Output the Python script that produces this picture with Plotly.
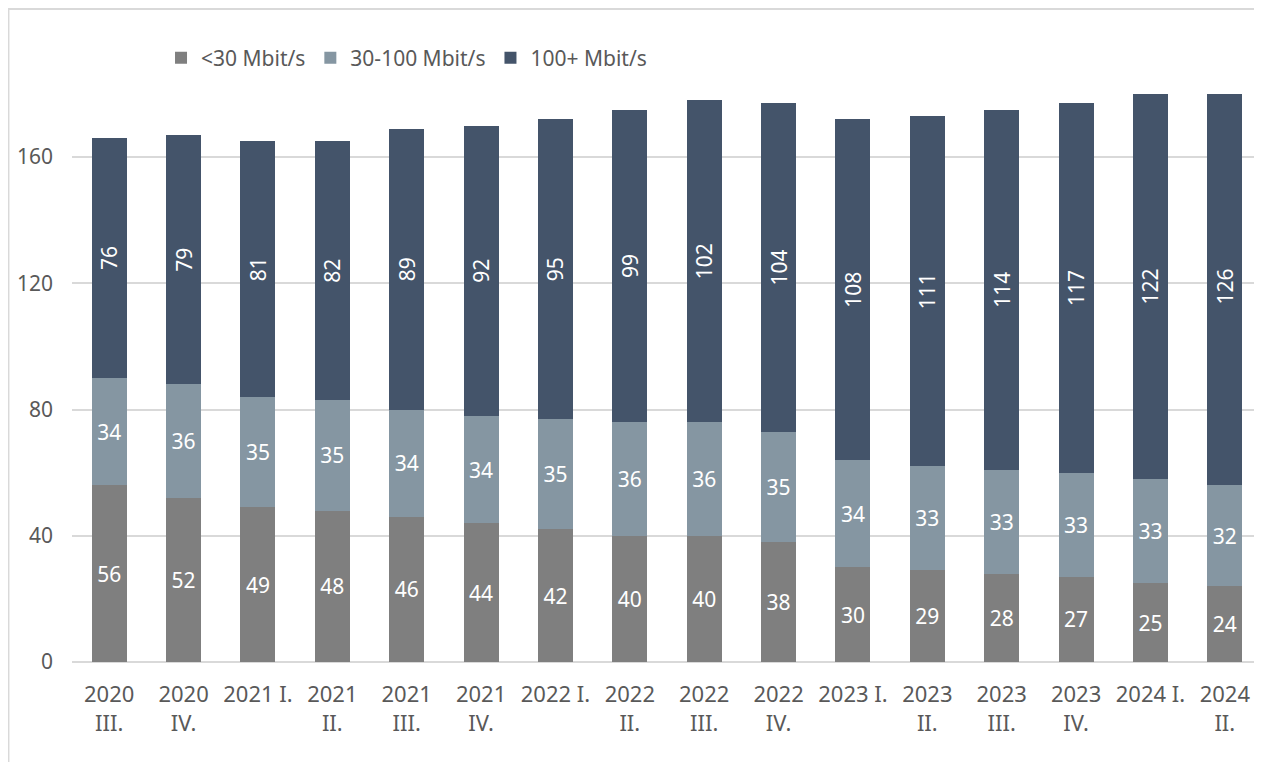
import plotly.graph_objects as go

categories = ["2020<br>III.", "2020<br>IV.", "2021 I.", "2021<br>II.", "2021<br>III.", "2021<br>IV.",
              "2022 I.", "2022<br>II.", "2022<br>III.", "2022<br>IV.", "2023 I.", "2023<br>II.",
              "2023<br>III.", "2023<br>IV.", "2024 I.", "2024<br>II."]
below30 = [56, 52, 49, 48, 46, 44, 42, 40, 40, 38, 30, 29, 28, 27, 25, 24]
mid30_100 = [34, 36, 35, 35, 34, 34, 35, 36, 36, 35, 34, 33, 33, 33, 33, 32]
above100 = [76, 79, 81, 82, 89, 92, 95, 99, 102, 104, 108, 111, 114, 117, 122, 126]
y_ticks = [0, 40, 80, 120, 160]

FONT = "Noto Sans, sans-serif"

fig = go.Figure()
series = [
    ("<30 Mbit/s", below30, "#7f7f7f", 0),
    ("30-100 Mbit/s", mid30_100, "#8596a2", 0),
    ("100+ Mbit/s", above100, "#44546a", -90),
]
for name, vals, color, ang in series:
    fig.add_trace(go.Bar(
        name=name, x=categories, y=vals,
        marker=dict(color=color, line=dict(width=0)),
        text=[str(v) for v in vals], textposition="inside", insidetextanchor="middle",
        textangle=ang, textfont=dict(color="white", size=21, family=FONT),
        constraintext="none",
    ))

fig.update_layout(
    barmode="stack", bargap=0.53,
    width=1254, height=754,
    margin=dict(l=64, r=0, t=86, b=100),
    paper_bgcolor="white", plot_bgcolor="white",
    font=dict(family=FONT, color="#595959", size=21),
    legend=dict(orientation="h", x=0.0748, y=1.063, xanchor="left", yanchor="middle",
                font=dict(size=21, color="#595959"), traceorder="normal",
                itemwidth=30),
    showlegend=True,
)
fig.update_yaxes(range=[0, 180], tickvals=y_ticks, showgrid=True, gridcolor="#d9d9d9",
                 gridwidth=1.5, zeroline=True, zerolinecolor="#d9d9d9", zerolinewidth=2,
                 showline=False, ticks="", tickfont=dict(size=21, color="#595959"), ticklabelstandoff=18)
fig.update_xaxes(showgrid=False, showline=False, ticks="", tickangle=0,
                 tickfont=dict(size=22, color="#595959"), ticklabelstandoff=17)

fig.add_shape(type="rect", xref="paper", yref="paper",
              x0=-0.0534, x1=1.05, y0=-0.25, y1=1.1496,
              line=dict(color="#d9d9d9", width=2), fillcolor="rgba(0,0,0,0)", layer="below")

fig.write_html("out.html")
